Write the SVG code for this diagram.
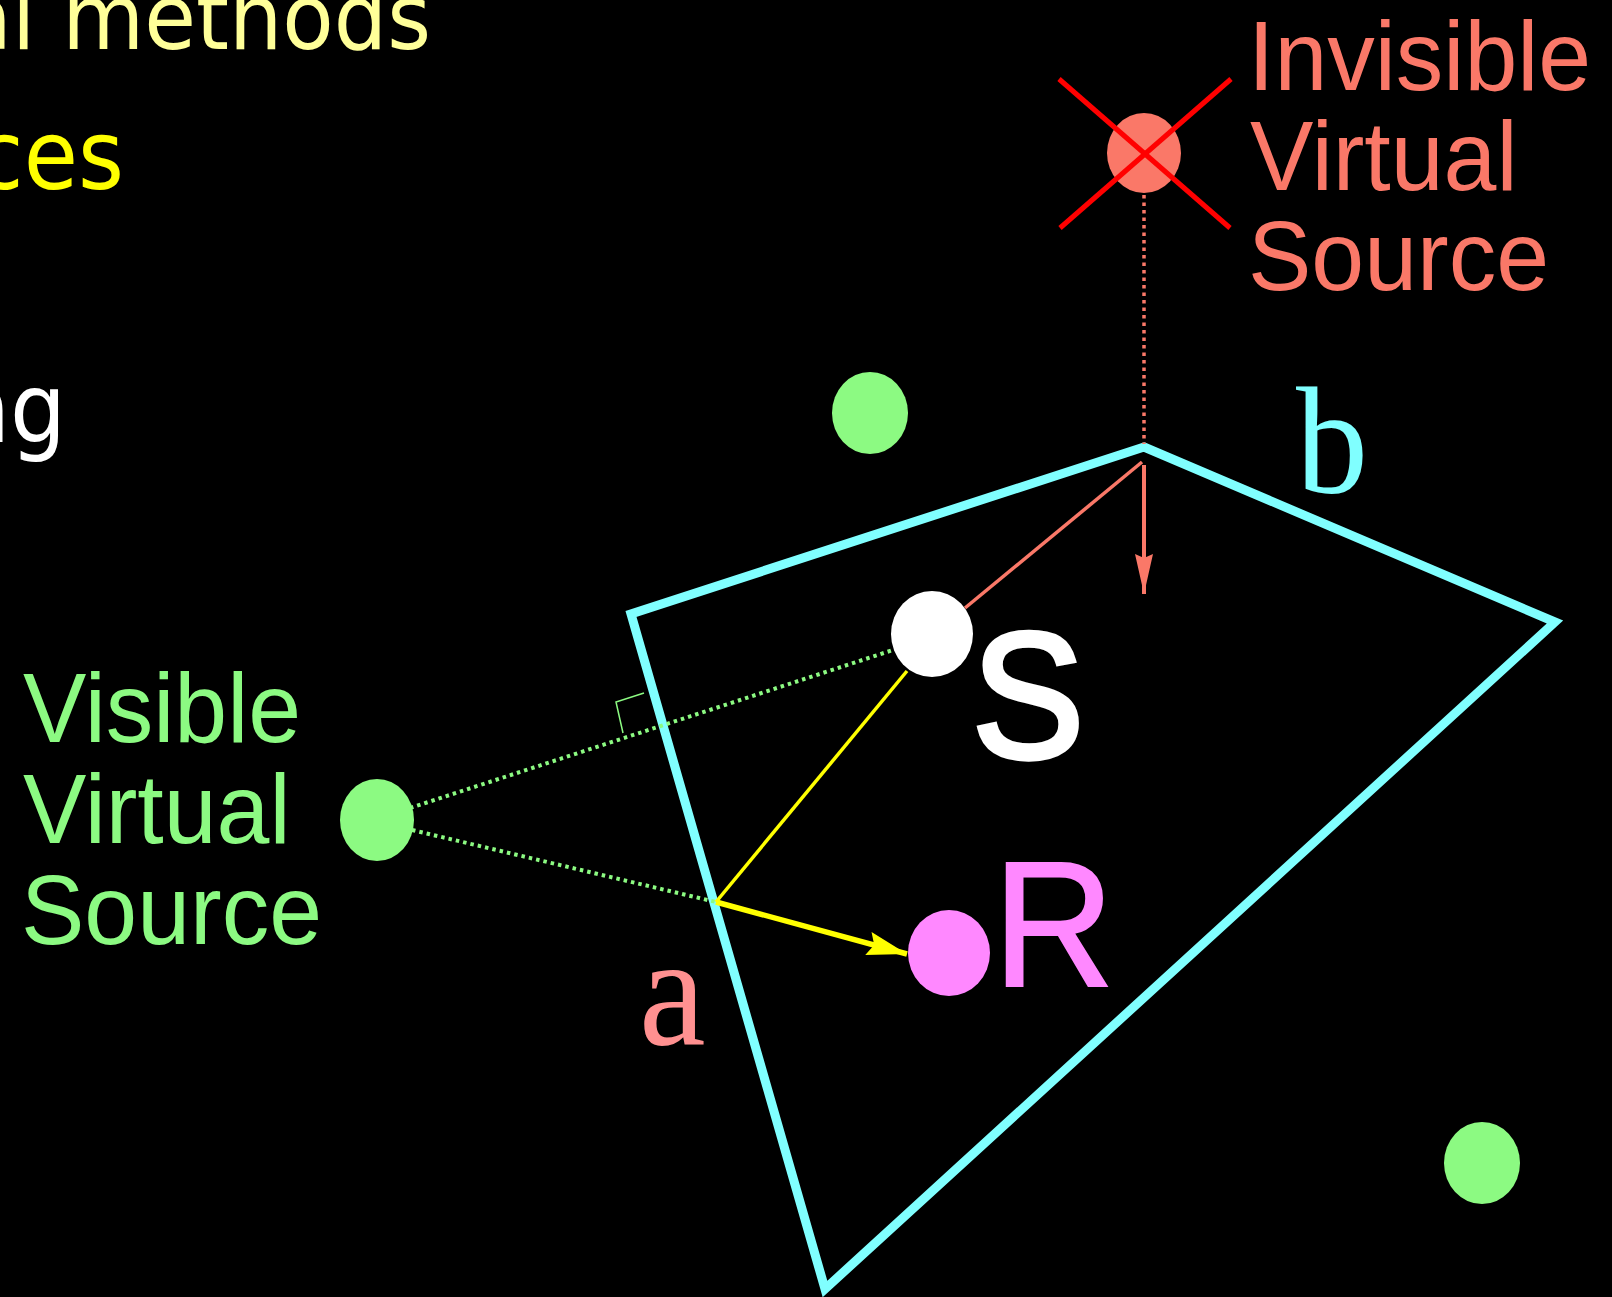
<svg xmlns="http://www.w3.org/2000/svg" width="1612" height="1297" viewBox="0 0 1612 1297">
<style>
.title{font-family:"DejaVu Sans","Verdana",sans-serif;}
.sans{font-family:"Liberation Sans",Arial,sans-serif;}
.serif{font-family:"Liberation Serif","Times New Roman",serif;}
.dotg{stroke:#8CFA82;stroke-width:4;stroke-dasharray:3.5 4;fill:none;}
.dots{stroke:#FA7868;stroke-width:3.5;stroke-dasharray:3.5 4;fill:none;}
</style>
<defs>
<marker id="arrY" markerUnits="userSpaceOnUse" markerWidth="42" markerHeight="26" viewBox="0 0 42 26" refX="40" refY="13" orient="auto">
<path d="M0,1 L40,13 L0,25 L6,13 Z" fill="#FFFF00"/>
</marker>
<marker id="arrS" markerUnits="userSpaceOnUse" markerWidth="42" markerHeight="22" viewBox="0 0 42 22" refX="40" refY="11" orient="auto">
<path d="M0,2 L40,11 L0,20 L4,11 Z" fill="#FA7868"/>
</marker>
</defs>
<rect x="0" y="0" width="1612" height="1297" fill="#000000"/>

<g id="bullets">
<text class="title" transform="translate(431,49) scale(0.935,1)" font-size="90" fill="#FFFF99" text-anchor="end">al methods</text>
<text class="title" transform="translate(124,189) scale(0.92,1)" font-size="96" fill="#FFFF00" text-anchor="end">ces</text>
<text class="title" transform="translate(66,442) scale(0.92,1)" font-size="96" fill="#FFFFFF" text-anchor="end">ng</text>
</g>

<g id="wall">
<polygon points="1144,447 1555,622 825,1289 631,614" fill="none" stroke="#80FFFF" stroke-width="9" stroke-linejoin="miter"/>
</g>

<g id="connectors">
<line class="dotg" x1="410" y1="808" x2="893" y2="650"/>
<line class="dotg" x1="412" y1="830" x2="716" y2="902"/>
<polyline points="644,693 616,702 623,733" fill="none" stroke="#8CFA82" stroke-width="1.5"/>
<line class="dots" x1="1144" y1="195" x2="1144" y2="444"/>
<line x1="1142" y1="462" x2="965" y2="608" stroke="#FA7868" stroke-width="3.5"/>
<line x1="1144" y1="465" x2="1144" y2="594" stroke="#FA7868" stroke-width="4" marker-end="url(#arrS)"/>
<line x1="907" y1="671" x2="716" y2="902" stroke="#FFFF00" stroke-width="3.5"/>
<line x1="716" y1="902" x2="907" y2="954" stroke="#FFFF00" stroke-width="5.5" marker-end="url(#arrY)"/>
</g>

<g id="invisible-source">
<ellipse cx="1144" cy="153" rx="37" ry="40" fill="#FA7868"/>
<line x1="1059" y1="79" x2="1230" y2="228" stroke="#FF0000" stroke-width="5"/>
<line x1="1231" y1="79" x2="1060" y2="228" stroke="#FF0000" stroke-width="5"/>
<g class="sans" font-size="95" fill="#FA7868">
<text transform="translate(1248,90) scale(1,1.04)">Invisible</text>
<text transform="translate(1250,190) scale(1,1.04)">Virtual</text>
<text transform="translate(1248,290) scale(1,1.04)">Source</text>
</g>
</g>

<g id="visible-source">
<ellipse cx="377" cy="820" rx="37" ry="41" fill="#8CFA82"/>
<g class="sans" font-size="95" fill="#8CFA82">
<text transform="translate(23,742) scale(1,1.04)">Visible</text>
<text transform="translate(23,843) scale(1,1.04)">Virtual</text>
<text transform="translate(21,944) scale(1,1.04)">Source</text>
</g>
</g>

<g id="source-S">
<ellipse cx="932" cy="634" rx="41" ry="43" fill="#FFFFFF"/>
<text class="sans" transform="translate(972,757) scale(1,1.06)" font-size="168" fill="#FFFFFF" stroke="#FFFFFF" stroke-width="5">S</text>
</g>

<g id="receiver-R">
<ellipse cx="949" cy="953" rx="41" ry="43" fill="#FF88FF"/>
<text class="sans" transform="translate(993,986) scale(1,1.06)" font-size="168" fill="#FF88FF" stroke="#FF88FF" stroke-width="2">R</text>
</g>

<g id="virtual-top">
<ellipse cx="870" cy="413" rx="38" ry="41" fill="#8CFA82"/>
</g>
<g id="virtual-bottom">
<ellipse cx="1482" cy="1163" rx="38" ry="41" fill="#8CFA82"/>
</g>

<g id="label-a">
<text class="serif" transform="translate(639,1044) scale(1,1.06)" font-size="150" fill="#FF9090">a</text>
</g>
<g id="label-b">
<text class="serif" transform="translate(1296,493) scale(1,1.06)" font-size="144" fill="#80FFFF">b</text>
</g>
</svg>
